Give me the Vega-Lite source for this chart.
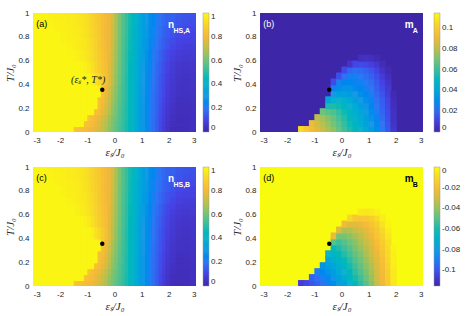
{
"$schema": "https://vega.github.io/schema/vega-lite/v6.json",
"background": "white",
"padding": {"left": 4, "top": 9, "right": 2, "bottom": 2},
"datasets": {
"nc": [
{"x":-2.875,"y":0.025,"v":0.985},{"x":-2.625,"y":0.025,"v":0.985},{"x":-2.375,"y":0.025,"v":0.985},{"x":-2.125,"y":0.025,"v":0.985},{"x":-1.875,"y":0.025,"v":0.985},{"x":-1.625,"y":0.025,"v":0.985},{"x":2.125,"y":0.025,"v":0.03},{"x":2.375,"y":0.025,"v":0.025},{"x":2.625,"y":0.025,"v":0.03},{"x":2.875,"y":0.025,"v":0.04},
{"x":-2.875,"y":0.075,"v":0.985},{"x":-2.625,"y":0.075,"v":0.985},{"x":-2.375,"y":0.075,"v":0.985},{"x":-2.125,"y":0.075,"v":0.985},{"x":-1.875,"y":0.075,"v":0.985},{"x":-1.625,"y":0.075,"v":0.985},{"x":2.125,"y":0.075,"v":0.035},{"x":2.375,"y":0.075,"v":0.028},{"x":2.625,"y":0.075,"v":0.03},{"x":2.875,"y":0.075,"v":0.04},
{"x":-2.875,"y":0.125,"v":0.985},{"x":-2.625,"y":0.125,"v":0.985},{"x":-2.375,"y":0.125,"v":0.985},{"x":-2.125,"y":0.125,"v":0.985},{"x":-1.875,"y":0.125,"v":0.985},{"x":-1.625,"y":0.125,"v":0.985},{"x":2.125,"y":0.125,"v":0.04},{"x":2.375,"y":0.125,"v":0.03},{"x":2.625,"y":0.125,"v":0.032},{"x":2.875,"y":0.125,"v":0.04},
{"x":-2.875,"y":0.175,"v":0.985},{"x":-2.625,"y":0.175,"v":0.985},{"x":-2.375,"y":0.175,"v":0.985},{"x":-2.125,"y":0.175,"v":0.985},{"x":-1.875,"y":0.175,"v":0.985},{"x":-1.625,"y":0.175,"v":0.985},{"x":2.125,"y":0.175,"v":0.045},{"x":2.375,"y":0.175,"v":0.033},{"x":2.625,"y":0.175,"v":0.034},{"x":2.875,"y":0.175,"v":0.042},
{"x":-2.875,"y":0.225,"v":0.985},{"x":-2.625,"y":0.225,"v":0.985},{"x":-2.375,"y":0.225,"v":0.985},{"x":-2.125,"y":0.225,"v":0.985},{"x":-1.875,"y":0.225,"v":0.985},{"x":-1.625,"y":0.225,"v":0.985},{"x":2.125,"y":0.225,"v":0.05},{"x":2.375,"y":0.225,"v":0.036},{"x":2.625,"y":0.225,"v":0.036},{"x":2.875,"y":0.225,"v":0.044},
{"x":-2.875,"y":0.275,"v":0.985},{"x":-2.625,"y":0.275,"v":0.985},{"x":-2.375,"y":0.275,"v":0.985},{"x":-2.125,"y":0.275,"v":0.985},{"x":-1.875,"y":0.275,"v":0.985},{"x":-1.625,"y":0.275,"v":0.985},{"x":2.125,"y":0.275,"v":0.055},{"x":2.375,"y":0.275,"v":0.04},{"x":2.625,"y":0.275,"v":0.04},{"x":2.875,"y":0.275,"v":0.046},
{"x":-2.875,"y":0.325,"v":0.985},{"x":-2.625,"y":0.325,"v":0.985},{"x":-2.375,"y":0.325,"v":0.985},{"x":-2.125,"y":0.325,"v":0.985},{"x":-1.875,"y":0.325,"v":0.985},{"x":-1.625,"y":0.325,"v":0.985},{"x":2.125,"y":0.325,"v":0.06},{"x":2.375,"y":0.325,"v":0.045},{"x":2.625,"y":0.325,"v":0.043},{"x":2.875,"y":0.325,"v":0.048},
{"x":-2.875,"y":0.375,"v":0.985},{"x":-2.625,"y":0.375,"v":0.985},{"x":-2.375,"y":0.375,"v":0.985},{"x":-2.125,"y":0.375,"v":0.985},{"x":-1.875,"y":0.375,"v":0.985},{"x":-1.625,"y":0.375,"v":0.985},{"x":2.125,"y":0.375,"v":0.063},{"x":2.375,"y":0.375,"v":0.048},{"x":2.625,"y":0.375,"v":0.046},{"x":2.875,"y":0.375,"v":0.05},
{"x":-2.875,"y":0.425,"v":0.985},{"x":-2.625,"y":0.425,"v":0.985},{"x":-2.375,"y":0.425,"v":0.985},{"x":-2.125,"y":0.425,"v":0.985},{"x":-1.875,"y":0.425,"v":0.985},{"x":-1.625,"y":0.425,"v":0.985},{"x":2.125,"y":0.425,"v":0.066},{"x":2.375,"y":0.425,"v":0.05},{"x":2.625,"y":0.425,"v":0.048},{"x":2.875,"y":0.425,"v":0.053},
{"x":-2.875,"y":0.475,"v":0.985},{"x":-2.625,"y":0.475,"v":0.985},{"x":-2.375,"y":0.475,"v":0.985},{"x":-2.125,"y":0.475,"v":0.985},{"x":-1.875,"y":0.475,"v":0.985},{"x":-1.625,"y":0.475,"v":0.985},{"x":2.125,"y":0.475,"v":0.07},{"x":2.375,"y":0.475,"v":0.053},{"x":2.625,"y":0.475,"v":0.05},{"x":2.875,"y":0.475,"v":0.056},
{"x":-2.875,"y":0.525,"v":0.985},{"x":-2.625,"y":0.525,"v":0.985},{"x":-2.375,"y":0.525,"v":0.985},{"x":-2.125,"y":0.525,"v":0.985},{"x":-1.875,"y":0.525,"v":0.985},{"x":-1.625,"y":0.525,"v":0.985},{"x":2.125,"y":0.525,"v":0.075},{"x":2.375,"y":0.525,"v":0.058},{"x":2.625,"y":0.525,"v":0.053},{"x":2.875,"y":0.525,"v":0.058},
{"x":-2.875,"y":0.575,"v":0.985},{"x":-2.625,"y":0.575,"v":0.985},{"x":-2.375,"y":0.575,"v":0.985},{"x":-2.125,"y":0.575,"v":0.985},{"x":-1.875,"y":0.575,"v":0.985},{"x":-1.625,"y":0.575,"v":0.985},{"x":2.125,"y":0.575,"v":0.08},{"x":2.375,"y":0.575,"v":0.063},{"x":2.625,"y":0.575,"v":0.058},{"x":2.875,"y":0.575,"v":0.062},
{"x":-2.875,"y":0.625,"v":0.985},{"x":-2.625,"y":0.625,"v":0.985},{"x":-2.375,"y":0.625,"v":0.985},{"x":-2.125,"y":0.625,"v":0.985},{"x":-1.875,"y":0.625,"v":0.985},{"x":-1.625,"y":0.625,"v":0.985},{"x":2.125,"y":0.625,"v":0.088},{"x":2.375,"y":0.625,"v":0.07},{"x":2.625,"y":0.625,"v":0.065},{"x":2.875,"y":0.625,"v":0.068},
{"x":-2.875,"y":0.675,"v":0.985},{"x":-2.625,"y":0.675,"v":0.985},{"x":-2.375,"y":0.675,"v":0.985},{"x":-2.125,"y":0.675,"v":0.985},{"x":-1.875,"y":0.675,"v":0.985},{"x":-1.625,"y":0.675,"v":0.98},{"x":2.125,"y":0.675,"v":0.097},{"x":2.375,"y":0.675,"v":0.08},{"x":2.625,"y":0.675,"v":0.073},{"x":2.875,"y":0.675,"v":0.075},
{"x":-2.875,"y":0.725,"v":0.985},{"x":-2.625,"y":0.725,"v":0.985},{"x":-2.375,"y":0.725,"v":0.985},{"x":-2.125,"y":0.725,"v":0.985},{"x":-1.875,"y":0.725,"v":0.985},{"x":-1.625,"y":0.725,"v":0.975},{"x":2.125,"y":0.725,"v":0.107},{"x":2.375,"y":0.725,"v":0.09},{"x":2.625,"y":0.725,"v":0.082},{"x":2.875,"y":0.725,"v":0.083},
{"x":-2.875,"y":0.775,"v":0.985},{"x":-2.625,"y":0.775,"v":0.985},{"x":-2.375,"y":0.775,"v":0.985},{"x":-2.125,"y":0.775,"v":0.985},{"x":-1.875,"y":0.775,"v":0.975},{"x":-1.625,"y":0.775,"v":0.97},{"x":2.125,"y":0.775,"v":0.117},{"x":2.375,"y":0.775,"v":0.1},{"x":2.625,"y":0.775,"v":0.092},{"x":2.875,"y":0.775,"v":0.092},
{"x":-2.875,"y":0.825,"v":0.985},{"x":-2.625,"y":0.825,"v":0.985},{"x":-2.375,"y":0.825,"v":0.985},{"x":-2.125,"y":0.825,"v":0.985},{"x":-1.875,"y":0.825,"v":0.975},{"x":-1.625,"y":0.825,"v":0.968},{"x":2.125,"y":0.825,"v":0.128},{"x":2.375,"y":0.825,"v":0.11},{"x":2.625,"y":0.825,"v":0.102},{"x":2.875,"y":0.825,"v":0.1},
{"x":-2.875,"y":0.875,"v":0.985},{"x":-2.625,"y":0.875,"v":0.985},{"x":-2.375,"y":0.875,"v":0.985},{"x":-2.125,"y":0.875,"v":0.978},{"x":-1.875,"y":0.875,"v":0.972},{"x":-1.625,"y":0.875,"v":0.965},{"x":2.125,"y":0.875,"v":0.138},{"x":2.375,"y":0.875,"v":0.12},{"x":2.625,"y":0.875,"v":0.112},{"x":2.875,"y":0.875,"v":0.11},
{"x":-2.875,"y":0.925,"v":0.985},{"x":-2.625,"y":0.925,"v":0.985},{"x":-2.375,"y":0.925,"v":0.98},{"x":-2.125,"y":0.925,"v":0.975},{"x":-1.875,"y":0.925,"v":0.97},{"x":-1.625,"y":0.925,"v":0.963},{"x":2.125,"y":0.925,"v":0.148},{"x":2.375,"y":0.925,"v":0.13},{"x":2.625,"y":0.925,"v":0.12},{"x":2.875,"y":0.925,"v":0.118},
{"x":-2.875,"y":0.975,"v":0.985},{"x":-2.625,"y":0.975,"v":0.985},{"x":-2.375,"y":0.975,"v":0.978},{"x":-2.125,"y":0.975,"v":0.973},{"x":-1.875,"y":0.975,"v":0.968},{"x":-1.625,"y":0.975,"v":0.96},{"x":2.125,"y":0.975,"v":0.155},{"x":2.375,"y":0.975,"v":0.138},{"x":2.625,"y":0.975,"v":0.128},{"x":2.875,"y":0.975,"v":0.125}
],
"nf1": [
{"x":-1.4375,"y":0.025,"v":0.845},{"x":-1.3125,"y":0.025,"v":0.835},{"x":-1.1875,"y":0.025,"v":0.825},{"x":-1.0625,"y":0.025,"v":0.815},{"x":-0.9375,"y":0.025,"v":0.805},{"x":-0.8125,"y":0.025,"v":0.79},{"x":-0.6875,"y":0.025,"v":0.77},{"x":-0.5625,"y":0.025,"v":0.745},{"x":-0.4375,"y":0.025,"v":0.715},{"x":-0.3125,"y":0.025,"v":0.685},{"x":-0.1875,"y":0.025,"v":0.64},{"x":-0.0625,"y":0.025,"v":0.605},{"x":0.0625,"y":0.025,"v":0.575},{"x":0.1875,"y":0.025,"v":0.545},{"x":0.3125,"y":0.025,"v":0.515},{"x":0.4375,"y":0.025,"v":0.485},{"x":0.5625,"y":0.025,"v":0.45},{"x":0.6875,"y":0.025,"v":0.41},{"x":0.8125,"y":0.025,"v":0.36},{"x":0.9375,"y":0.025,"v":0.32},{"x":1.0625,"y":0.025,"v":0.29},{"x":1.1875,"y":0.025,"v":0.255},{"x":1.3125,"y":0.025,"v":0.22},{"x":1.4375,"y":0.025,"v":0.18},{"x":1.5625,"y":0.025,"v":0.15},{"x":1.6875,"y":0.025,"v":0.11},{"x":1.8125,"y":0.025,"v":0.08},{"x":1.9375,"y":0.025,"v":0.05},
{"x":-1.4375,"y":0.075,"v":0.985},{"x":-1.3125,"y":0.075,"v":0.985},{"x":-1.1875,"y":0.075,"v":0.985},{"x":-1.0625,"y":0.075,"v":0.84},{"x":-0.9375,"y":0.075,"v":0.825},{"x":-0.8125,"y":0.075,"v":0.81},{"x":-0.6875,"y":0.075,"v":0.785},{"x":-0.5625,"y":0.075,"v":0.755},{"x":-0.4375,"y":0.075,"v":0.725},{"x":-0.3125,"y":0.075,"v":0.69},{"x":-0.1875,"y":0.075,"v":0.65},{"x":-0.0625,"y":0.075,"v":0.615},{"x":0.0625,"y":0.075,"v":0.58},{"x":0.1875,"y":0.075,"v":0.55},{"x":0.3125,"y":0.075,"v":0.515},{"x":0.4375,"y":0.075,"v":0.485},{"x":0.5625,"y":0.075,"v":0.45},{"x":0.6875,"y":0.075,"v":0.41},{"x":0.8125,"y":0.075,"v":0.36},{"x":0.9375,"y":0.075,"v":0.32},{"x":1.0625,"y":0.075,"v":0.29},{"x":1.1875,"y":0.075,"v":0.255},{"x":1.3125,"y":0.075,"v":0.22},{"x":1.4375,"y":0.075,"v":0.18},{"x":1.5625,"y":0.075,"v":0.15},{"x":1.6875,"y":0.075,"v":0.11},{"x":1.8125,"y":0.075,"v":0.082},{"x":1.9375,"y":0.075,"v":0.055},
{"x":-1.4375,"y":0.125,"v":0.985},{"x":-1.3125,"y":0.125,"v":0.985},{"x":-1.1875,"y":0.125,"v":0.985},{"x":-1.0625,"y":0.125,"v":0.985},{"x":-0.9375,"y":0.125,"v":0.845},{"x":-0.8125,"y":0.125,"v":0.83},{"x":-0.6875,"y":0.125,"v":0.805},{"x":-0.5625,"y":0.125,"v":0.775},{"x":-0.4375,"y":0.125,"v":0.745},{"x":-0.3125,"y":0.125,"v":0.71},{"x":-0.1875,"y":0.125,"v":0.665},{"x":-0.0625,"y":0.125,"v":0.625},{"x":0.0625,"y":0.125,"v":0.59},{"x":0.1875,"y":0.125,"v":0.555},{"x":0.3125,"y":0.125,"v":0.52},{"x":0.4375,"y":0.125,"v":0.49},{"x":0.5625,"y":0.125,"v":0.45},{"x":0.6875,"y":0.125,"v":0.41},{"x":0.8125,"y":0.125,"v":0.365},{"x":0.9375,"y":0.125,"v":0.325},{"x":1.0625,"y":0.125,"v":0.29},{"x":1.1875,"y":0.125,"v":0.255},{"x":1.3125,"y":0.125,"v":0.22},{"x":1.4375,"y":0.125,"v":0.183},{"x":1.5625,"y":0.125,"v":0.152},{"x":1.6875,"y":0.125,"v":0.115},{"x":1.8125,"y":0.125,"v":0.087},{"x":1.9375,"y":0.125,"v":0.058},
{"x":-1.4375,"y":0.175,"v":0.985},{"x":-1.3125,"y":0.175,"v":0.985},{"x":-1.1875,"y":0.175,"v":0.985},{"x":-1.0625,"y":0.175,"v":0.985},{"x":-0.9375,"y":0.175,"v":0.985},{"x":-0.8125,"y":0.175,"v":0.985},{"x":-0.6875,"y":0.175,"v":0.835},{"x":-0.5625,"y":0.175,"v":0.81},{"x":-0.4375,"y":0.175,"v":0.775},{"x":-0.3125,"y":0.175,"v":0.74},{"x":-0.1875,"y":0.175,"v":0.685},{"x":-0.0625,"y":0.175,"v":0.64},{"x":0.0625,"y":0.175,"v":0.6},{"x":0.1875,"y":0.175,"v":0.56},{"x":0.3125,"y":0.175,"v":0.525},{"x":0.4375,"y":0.175,"v":0.49},{"x":0.5625,"y":0.175,"v":0.45},{"x":0.6875,"y":0.175,"v":0.41},{"x":0.8125,"y":0.175,"v":0.365},{"x":0.9375,"y":0.175,"v":0.325},{"x":1.0625,"y":0.175,"v":0.29},{"x":1.1875,"y":0.175,"v":0.255},{"x":1.3125,"y":0.175,"v":0.22},{"x":1.4375,"y":0.175,"v":0.185},{"x":1.5625,"y":0.175,"v":0.153},{"x":1.6875,"y":0.175,"v":0.118},{"x":1.8125,"y":0.175,"v":0.09},{"x":1.9375,"y":0.175,"v":0.062},
{"x":-1.4375,"y":0.225,"v":0.985},{"x":-1.3125,"y":0.225,"v":0.985},{"x":-1.1875,"y":0.225,"v":0.985},{"x":-1.0625,"y":0.225,"v":0.985},{"x":-0.9375,"y":0.225,"v":0.985},{"x":-0.8125,"y":0.225,"v":0.985},{"x":-0.6875,"y":0.225,"v":0.985},{"x":-0.5625,"y":0.225,"v":0.825},{"x":-0.4375,"y":0.225,"v":0.795},{"x":-0.3125,"y":0.225,"v":0.755},{"x":-0.1875,"y":0.225,"v":0.7},{"x":-0.0625,"y":0.225,"v":0.65},{"x":0.0625,"y":0.225,"v":0.605},{"x":0.1875,"y":0.225,"v":0.565},{"x":0.3125,"y":0.225,"v":0.53},{"x":0.4375,"y":0.225,"v":0.49},{"x":0.5625,"y":0.225,"v":0.45},{"x":0.6875,"y":0.225,"v":0.41},{"x":0.8125,"y":0.225,"v":0.365},{"x":0.9375,"y":0.225,"v":0.325},{"x":1.0625,"y":0.225,"v":0.29},{"x":1.1875,"y":0.225,"v":0.255},{"x":1.3125,"y":0.225,"v":0.22},{"x":1.4375,"y":0.225,"v":0.185},{"x":1.5625,"y":0.225,"v":0.155},{"x":1.6875,"y":0.225,"v":0.122},{"x":1.8125,"y":0.225,"v":0.095},{"x":1.9375,"y":0.225,"v":0.067},
{"x":-1.4375,"y":0.275,"v":0.985},{"x":-1.3125,"y":0.275,"v":0.985},{"x":-1.1875,"y":0.275,"v":0.985},{"x":-1.0625,"y":0.275,"v":0.985},{"x":-0.9375,"y":0.275,"v":0.985},{"x":-0.8125,"y":0.275,"v":0.985},{"x":-0.6875,"y":0.275,"v":0.985},{"x":-0.5625,"y":0.275,"v":0.83},{"x":-0.4375,"y":0.275,"v":0.81},{"x":-0.3125,"y":0.275,"v":0.77},{"x":-0.1875,"y":0.275,"v":0.715},{"x":-0.0625,"y":0.275,"v":0.665},{"x":0.0625,"y":0.275,"v":0.615},{"x":0.1875,"y":0.275,"v":0.57},{"x":0.3125,"y":0.275,"v":0.53},{"x":0.4375,"y":0.275,"v":0.495},{"x":0.5625,"y":0.275,"v":0.45},{"x":0.6875,"y":0.275,"v":0.41},{"x":0.8125,"y":0.275,"v":0.367},{"x":0.9375,"y":0.275,"v":0.328},{"x":1.0625,"y":0.275,"v":0.292},{"x":1.1875,"y":0.275,"v":0.257},{"x":1.3125,"y":0.275,"v":0.222},{"x":1.4375,"y":0.275,"v":0.188},{"x":1.5625,"y":0.275,"v":0.157},{"x":1.6875,"y":0.275,"v":0.125},{"x":1.8125,"y":0.275,"v":0.1},{"x":1.9375,"y":0.275,"v":0.072},
{"x":-1.4375,"y":0.325,"v":0.985},{"x":-1.3125,"y":0.325,"v":0.985},{"x":-1.1875,"y":0.325,"v":0.985},{"x":-1.0625,"y":0.325,"v":0.985},{"x":-0.9375,"y":0.325,"v":0.985},{"x":-0.8125,"y":0.325,"v":0.985},{"x":-0.6875,"y":0.325,"v":0.985},{"x":-0.5625,"y":0.325,"v":0.985},{"x":-0.4375,"y":0.325,"v":0.83},{"x":-0.3125,"y":0.325,"v":0.79},{"x":-0.1875,"y":0.325,"v":0.73},{"x":-0.0625,"y":0.325,"v":0.675},{"x":0.0625,"y":0.325,"v":0.625},{"x":0.1875,"y":0.325,"v":0.575},{"x":0.3125,"y":0.325,"v":0.535},{"x":0.4375,"y":0.325,"v":0.5},{"x":0.5625,"y":0.325,"v":0.455},{"x":0.6875,"y":0.325,"v":0.412},{"x":0.8125,"y":0.325,"v":0.368},{"x":0.9375,"y":0.325,"v":0.33},{"x":1.0625,"y":0.325,"v":0.294},{"x":1.1875,"y":0.325,"v":0.26},{"x":1.3125,"y":0.325,"v":0.225},{"x":1.4375,"y":0.325,"v":0.19},{"x":1.5625,"y":0.325,"v":0.16},{"x":1.6875,"y":0.325,"v":0.13},{"x":1.8125,"y":0.325,"v":0.105},{"x":1.9375,"y":0.325,"v":0.078},
{"x":-1.4375,"y":0.375,"v":0.985},{"x":-1.3125,"y":0.375,"v":0.985},{"x":-1.1875,"y":0.375,"v":0.985},{"x":-1.0625,"y":0.375,"v":0.985},{"x":-0.9375,"y":0.375,"v":0.985},{"x":-0.8125,"y":0.375,"v":0.985},{"x":-0.6875,"y":0.375,"v":0.985},{"x":-0.5625,"y":0.375,"v":0.97},{"x":-0.4375,"y":0.375,"v":0.87},{"x":-0.3125,"y":0.375,"v":0.8},{"x":-0.1875,"y":0.375,"v":0.74},{"x":-0.0625,"y":0.375,"v":0.68},{"x":0.0625,"y":0.375,"v":0.63},{"x":0.1875,"y":0.375,"v":0.58},{"x":0.3125,"y":0.375,"v":0.535},{"x":0.4375,"y":0.375,"v":0.5},{"x":0.5625,"y":0.375,"v":0.455},{"x":0.6875,"y":0.375,"v":0.414},{"x":0.8125,"y":0.375,"v":0.37},{"x":0.9375,"y":0.375,"v":0.332},{"x":1.0625,"y":0.375,"v":0.296},{"x":1.1875,"y":0.375,"v":0.262},{"x":1.3125,"y":0.375,"v":0.228},{"x":1.4375,"y":0.375,"v":0.193},{"x":1.5625,"y":0.375,"v":0.163},{"x":1.6875,"y":0.375,"v":0.133},{"x":1.8125,"y":0.375,"v":0.108},{"x":1.9375,"y":0.375,"v":0.08}
],
"nf2": [
{"x":-1.4375,"y":0.45,"v":0.985},{"x":-1.3125,"y":0.45,"v":0.985},{"x":-1.1875,"y":0.45,"v":0.985},{"x":-1.0625,"y":0.45,"v":0.985},{"x":-0.9375,"y":0.45,"v":0.985},{"x":-0.8125,"y":0.45,"v":0.97},{"x":-0.6875,"y":0.45,"v":0.94},{"x":-0.5625,"y":0.45,"v":0.91},{"x":-0.4375,"y":0.45,"v":0.87},{"x":-0.3125,"y":0.45,"v":0.83},{"x":-0.1875,"y":0.45,"v":0.765},{"x":-0.0625,"y":0.45,"v":0.7},{"x":0.0625,"y":0.45,"v":0.64},{"x":0.1875,"y":0.45,"v":0.59},{"x":0.3125,"y":0.45,"v":0.54},{"x":0.4375,"y":0.45,"v":0.5},{"x":0.5625,"y":0.45,"v":0.455},{"x":0.6875,"y":0.45,"v":0.415},{"x":0.8125,"y":0.45,"v":0.372},{"x":0.9375,"y":0.45,"v":0.335},{"x":1.0625,"y":0.45,"v":0.3},{"x":1.1875,"y":0.45,"v":0.265},{"x":1.3125,"y":0.45,"v":0.232},{"x":1.4375,"y":0.45,"v":0.197},{"x":1.5625,"y":0.45,"v":0.167},{"x":1.6875,"y":0.45,"v":0.138},{"x":1.8125,"y":0.45,"v":0.112},{"x":1.9375,"y":0.45,"v":0.085},
{"x":-1.4375,"y":0.55,"v":0.985},{"x":-1.3125,"y":0.55,"v":0.985},{"x":-1.1875,"y":0.55,"v":0.985},{"x":-1.0625,"y":0.55,"v":0.97},{"x":-0.9375,"y":0.55,"v":0.955},{"x":-0.8125,"y":0.55,"v":0.935},{"x":-0.6875,"y":0.55,"v":0.91},{"x":-0.5625,"y":0.55,"v":0.88},{"x":-0.4375,"y":0.55,"v":0.85},{"x":-0.3125,"y":0.55,"v":0.82},{"x":-0.1875,"y":0.55,"v":0.77},{"x":-0.0625,"y":0.55,"v":0.71},{"x":0.0625,"y":0.55,"v":0.65},{"x":0.1875,"y":0.55,"v":0.595},{"x":0.3125,"y":0.55,"v":0.545},{"x":0.4375,"y":0.55,"v":0.505},{"x":0.5625,"y":0.55,"v":0.46},{"x":0.6875,"y":0.55,"v":0.42},{"x":0.8125,"y":0.55,"v":0.378},{"x":0.9375,"y":0.55,"v":0.34},{"x":1.0625,"y":0.55,"v":0.305},{"x":1.1875,"y":0.55,"v":0.27},{"x":1.3125,"y":0.55,"v":0.237},{"x":1.4375,"y":0.55,"v":0.204},{"x":1.5625,"y":0.55,"v":0.175},{"x":1.6875,"y":0.55,"v":0.147},{"x":1.8125,"y":0.55,"v":0.12},{"x":1.9375,"y":0.55,"v":0.095},
{"x":-1.4375,"y":0.65,"v":0.975},{"x":-1.3125,"y":0.65,"v":0.97},{"x":-1.1875,"y":0.65,"v":0.962},{"x":-1.0625,"y":0.65,"v":0.952},{"x":-0.9375,"y":0.65,"v":0.94},{"x":-0.8125,"y":0.65,"v":0.92},{"x":-0.6875,"y":0.65,"v":0.9},{"x":-0.5625,"y":0.65,"v":0.87},{"x":-0.4375,"y":0.65,"v":0.84},{"x":-0.3125,"y":0.65,"v":0.81},{"x":-0.1875,"y":0.65,"v":0.775},{"x":-0.0625,"y":0.65,"v":0.72},{"x":0.0625,"y":0.65,"v":0.66},{"x":0.1875,"y":0.65,"v":0.6},{"x":0.3125,"y":0.65,"v":0.55},{"x":0.4375,"y":0.65,"v":0.51},{"x":0.5625,"y":0.65,"v":0.465},{"x":0.6875,"y":0.65,"v":0.425},{"x":0.8125,"y":0.65,"v":0.383},{"x":0.9375,"y":0.65,"v":0.345},{"x":1.0625,"y":0.65,"v":0.31},{"x":1.1875,"y":0.65,"v":0.278},{"x":1.3125,"y":0.65,"v":0.245},{"x":1.4375,"y":0.65,"v":0.213},{"x":1.5625,"y":0.65,"v":0.185},{"x":1.6875,"y":0.65,"v":0.158},{"x":1.8125,"y":0.65,"v":0.132},{"x":1.9375,"y":0.65,"v":0.11},
{"x":-1.4375,"y":0.75,"v":0.965},{"x":-1.3125,"y":0.75,"v":0.96},{"x":-1.1875,"y":0.75,"v":0.952},{"x":-1.0625,"y":0.75,"v":0.945},{"x":-0.9375,"y":0.75,"v":0.932},{"x":-0.8125,"y":0.75,"v":0.915},{"x":-0.6875,"y":0.75,"v":0.895},{"x":-0.5625,"y":0.75,"v":0.865},{"x":-0.4375,"y":0.75,"v":0.835},{"x":-0.3125,"y":0.75,"v":0.805},{"x":-0.1875,"y":0.75,"v":0.78},{"x":-0.0625,"y":0.75,"v":0.73},{"x":0.0625,"y":0.75,"v":0.665},{"x":0.1875,"y":0.75,"v":0.605},{"x":0.3125,"y":0.75,"v":0.555},{"x":0.4375,"y":0.75,"v":0.515},{"x":0.5625,"y":0.75,"v":0.47},{"x":0.6875,"y":0.75,"v":0.43},{"x":0.8125,"y":0.75,"v":0.387},{"x":0.9375,"y":0.75,"v":0.35},{"x":1.0625,"y":0.75,"v":0.315},{"x":1.1875,"y":0.75,"v":0.285},{"x":1.3125,"y":0.75,"v":0.253},{"x":1.4375,"y":0.75,"v":0.223},{"x":1.5625,"y":0.75,"v":0.197},{"x":1.6875,"y":0.75,"v":0.172},{"x":1.8125,"y":0.75,"v":0.148},{"x":1.9375,"y":0.75,"v":0.127},
{"x":-1.4375,"y":0.85,"v":0.96},{"x":-1.3125,"y":0.85,"v":0.955},{"x":-1.1875,"y":0.85,"v":0.947},{"x":-1.0625,"y":0.85,"v":0.94},{"x":-0.9375,"y":0.85,"v":0.925},{"x":-0.8125,"y":0.85,"v":0.905},{"x":-0.6875,"y":0.85,"v":0.885},{"x":-0.5625,"y":0.85,"v":0.86},{"x":-0.4375,"y":0.85,"v":0.83},{"x":-0.3125,"y":0.85,"v":0.8},{"x":-0.1875,"y":0.85,"v":0.78},{"x":-0.0625,"y":0.85,"v":0.735},{"x":0.0625,"y":0.85,"v":0.67},{"x":0.1875,"y":0.85,"v":0.61},{"x":0.3125,"y":0.85,"v":0.56},{"x":0.4375,"y":0.85,"v":0.52},{"x":0.5625,"y":0.85,"v":0.475},{"x":0.6875,"y":0.85,"v":0.435},{"x":0.8125,"y":0.85,"v":0.39},{"x":0.9375,"y":0.85,"v":0.355},{"x":1.0625,"y":0.85,"v":0.32},{"x":1.1875,"y":0.85,"v":0.29},{"x":1.3125,"y":0.85,"v":0.26},{"x":1.4375,"y":0.85,"v":0.232},{"x":1.5625,"y":0.85,"v":0.207},{"x":1.6875,"y":0.85,"v":0.184},{"x":1.8125,"y":0.85,"v":0.162},{"x":1.9375,"y":0.85,"v":0.143},
{"x":-1.4375,"y":0.95,"v":0.955},{"x":-1.3125,"y":0.95,"v":0.95},{"x":-1.1875,"y":0.95,"v":0.943},{"x":-1.0625,"y":0.95,"v":0.935},{"x":-0.9375,"y":0.95,"v":0.92},{"x":-0.8125,"y":0.95,"v":0.9},{"x":-0.6875,"y":0.95,"v":0.88},{"x":-0.5625,"y":0.95,"v":0.855},{"x":-0.4375,"y":0.95,"v":0.825},{"x":-0.3125,"y":0.95,"v":0.8},{"x":-0.1875,"y":0.95,"v":0.785},{"x":-0.0625,"y":0.95,"v":0.74},{"x":0.0625,"y":0.95,"v":0.675},{"x":0.1875,"y":0.95,"v":0.615},{"x":0.3125,"y":0.95,"v":0.565},{"x":0.4375,"y":0.95,"v":0.525},{"x":0.5625,"y":0.95,"v":0.48},{"x":0.6875,"y":0.95,"v":0.44},{"x":0.8125,"y":0.95,"v":0.395},{"x":0.9375,"y":0.95,"v":0.36},{"x":1.0625,"y":0.95,"v":0.325},{"x":1.1875,"y":0.95,"v":0.295},{"x":1.3125,"y":0.95,"v":0.265},{"x":1.4375,"y":0.95,"v":0.24},{"x":1.5625,"y":0.95,"v":0.215},{"x":1.6875,"y":0.95,"v":0.193},{"x":1.8125,"y":0.95,"v":0.173},{"x":1.9375,"y":0.95,"v":0.155}
],
"m": [
{"x":-1.5,"y":0.025,"b":0.105,"d":-0.106},{"x":-1.3,"y":0.025,"b":0.099,"d":-0.103},{"x":-1.1,"y":0.025,"b":0.093,"d":-0.1},{"x":-0.9,"y":0.025,"b":0.088,"d":-0.097},{"x":-0.7,"y":0.025,"b":0.083,"d":-0.093},{"x":-0.5,"y":0.025,"b":0.078,"d":-0.089},{"x":-0.3,"y":0.025,"b":0.073,"d":-0.085},{"x":-0.1,"y":0.025,"b":0.067,"d":-0.08},{"x":0.1,"y":0.025,"b":0.061,"d":-0.075},{"x":0.3,"y":0.025,"b":0.056,"d":-0.069},{"x":0.5,"y":0.025,"b":0.051,"d":-0.063},{"x":0.7,"y":0.025,"b":0.046,"d":-0.057},{"x":0.9,"y":0.025,"b":0.041,"d":-0.05},{"x":1.1,"y":0.025,"b":0.036,"d":-0.042},{"x":1.3,"y":0.025,"b":0.03,"d":-0.033},{"x":1.5,"y":0.025,"b":0.024,"d":-0.024},{"x":1.7,"y":0.025,"b":0.016,"d":-0.015},{"x":1.9,"y":0.025,"b":0.007,"d":-0.006},
{"x":-1.1,"y":0.075,"b":0.09,"d":-0.097},{"x":-0.9,"y":0.075,"b":0.085,"d":-0.094},{"x":-0.7,"y":0.075,"b":0.08,"d":-0.09},{"x":-0.5,"y":0.075,"b":0.075,"d":-0.086},{"x":-0.3,"y":0.075,"b":0.07,"d":-0.082},{"x":-0.1,"y":0.075,"b":0.065,"d":-0.077},{"x":0.1,"y":0.075,"b":0.059,"d":-0.072},{"x":0.3,"y":0.075,"b":0.054,"d":-0.066},{"x":0.5,"y":0.075,"b":0.049,"d":-0.06},{"x":0.7,"y":0.075,"b":0.044,"d":-0.054},{"x":0.9,"y":0.075,"b":0.039,"d":-0.047},{"x":1.1,"y":0.075,"b":0.034,"d":-0.04},{"x":1.3,"y":0.075,"b":0.029,"d":-0.031},{"x":1.5,"y":0.075,"b":0.023,"d":-0.023},{"x":1.7,"y":0.075,"b":0.015,"d":-0.014},{"x":1.9,"y":0.075,"b":0.006,"d":-0.005},
{"x":-0.9,"y":0.125,"b":0.08,"d":-0.09},{"x":-0.7,"y":0.125,"b":0.077,"d":-0.087},{"x":-0.5,"y":0.125,"b":0.072,"d":-0.083},{"x":-0.3,"y":0.125,"b":0.067,"d":-0.079},{"x":-0.1,"y":0.125,"b":0.062,"d":-0.074},{"x":0.1,"y":0.125,"b":0.057,"d":-0.069},{"x":0.3,"y":0.125,"b":0.052,"d":-0.063},{"x":0.5,"y":0.125,"b":0.047,"d":-0.057},{"x":0.7,"y":0.125,"b":0.042,"d":-0.051},{"x":0.9,"y":0.125,"b":0.037,"d":-0.045},{"x":1.1,"y":0.125,"b":0.032,"d":-0.038},{"x":1.3,"y":0.125,"b":0.027,"d":-0.03},{"x":1.5,"y":0.125,"b":0.021,"d":-0.022},{"x":1.7,"y":0.125,"b":0.014,"d":-0.013},{"x":1.9,"y":0.125,"b":0.005,"d":-0.005},
{"x":-0.7,"y":0.175,"b":0.068,"d":-0.083},{"x":-0.5,"y":0.175,"b":0.066,"d":-0.079},{"x":-0.3,"y":0.175,"b":0.063,"d":-0.075},{"x":-0.1,"y":0.175,"b":0.059,"d":-0.071},{"x":0.1,"y":0.175,"b":0.054,"d":-0.066},{"x":0.3,"y":0.175,"b":0.049,"d":-0.06},{"x":0.5,"y":0.175,"b":0.044,"d":-0.054},{"x":0.7,"y":0.175,"b":0.04,"d":-0.048},{"x":0.9,"y":0.175,"b":0.035,"d":-0.042},{"x":1.1,"y":0.175,"b":0.03,"d":-0.036},{"x":1.3,"y":0.175,"b":0.025,"d":-0.028},{"x":1.5,"y":0.175,"b":0.019,"d":-0.021},{"x":1.7,"y":0.175,"b":0.013,"d":-0.012},{"x":1.9,"y":0.175,"b":0.005,"d":-0.004},
{"x":-0.5,"y":0.225,"b":0.056,"d":-0.075},{"x":-0.3,"y":0.225,"b":0.056,"d":-0.071},{"x":-0.1,"y":0.225,"b":0.054,"d":-0.067},{"x":0.1,"y":0.225,"b":0.05,"d":-0.062},{"x":0.3,"y":0.225,"b":0.046,"d":-0.057},{"x":0.5,"y":0.225,"b":0.042,"d":-0.051},{"x":0.7,"y":0.225,"b":0.037,"d":-0.046},{"x":0.9,"y":0.225,"b":0.033,"d":-0.04},{"x":1.1,"y":0.225,"b":0.028,"d":-0.034},{"x":1.3,"y":0.225,"b":0.023,"d":-0.027},{"x":1.5,"y":0.225,"b":0.018,"d":-0.02},{"x":1.7,"y":0.225,"b":0.012,"d":-0.011},{"x":1.9,"y":0.225,"b":0.004,"d":-0.003},
{"x":-0.5,"y":0.275,"b":0.04,"d":-0.069},{"x":-0.3,"y":0.275,"b":0.045,"d":-0.066},{"x":-0.1,"y":0.275,"b":0.046,"d":-0.063},{"x":0.1,"y":0.275,"b":0.045,"d":-0.058},{"x":0.3,"y":0.275,"b":0.042,"d":-0.053},{"x":0.5,"y":0.275,"b":0.038,"d":-0.048},{"x":0.7,"y":0.275,"b":0.034,"d":-0.043},{"x":0.9,"y":0.275,"b":0.031,"d":-0.037},{"x":1.1,"y":0.275,"b":0.027,"d":-0.031},{"x":1.3,"y":0.275,"b":0.022,"d":-0.025},{"x":1.5,"y":0.275,"b":0.017,"d":-0.018},{"x":1.7,"y":0.275,"b":0.011,"d":-0.01},{"x":1.9,"y":0.275,"b":0.003,"d":-0.003},
{"x":-0.3,"y":0.325,"b":0.034,"d":-0.062},{"x":-0.1,"y":0.325,"b":0.038,"d":-0.059},{"x":0.1,"y":0.325,"b":0.038,"d":-0.054},{"x":0.3,"y":0.325,"b":0.036,"d":-0.05},{"x":0.5,"y":0.325,"b":0.034,"d":-0.045},{"x":0.7,"y":0.325,"b":0.031,"d":-0.04},{"x":0.9,"y":0.325,"b":0.028,"d":-0.035},{"x":1.1,"y":0.325,"b":0.025,"d":-0.029},{"x":1.3,"y":0.325,"b":0.02,"d":-0.023},{"x":1.5,"y":0.325,"b":0.015,"d":-0.016},{"x":1.7,"y":0.325,"b":0.009,"d":-0.009},{"x":1.9,"y":0.325,"b":0.002,"d":-0.002},
{"x":-0.3,"y":0.375,"b":0.026,"d":-0.05},{"x":-0.1,"y":0.375,"b":0.031,"d":-0.054},{"x":0.1,"y":0.375,"b":0.032,"d":-0.05},{"x":0.3,"y":0.375,"b":0.032,"d":-0.046},{"x":0.5,"y":0.375,"b":0.03,"d":-0.042},{"x":0.7,"y":0.375,"b":0.028,"d":-0.037},{"x":0.9,"y":0.375,"b":0.026,"d":-0.032},{"x":1.1,"y":0.375,"b":0.023,"d":-0.027},{"x":1.3,"y":0.375,"b":0.018,"d":-0.021},{"x":1.5,"y":0.375,"b":0.013,"d":-0.014},{"x":1.7,"y":0.375,"b":0.008,"d":-0.008},
{"x":-0.3,"y":0.425,"b":0.013,"d":-0.025},{"x":-0.1,"y":0.425,"b":0.025,"d":-0.045},{"x":0.1,"y":0.425,"b":0.028,"d":-0.045},{"x":0.3,"y":0.425,"b":0.028,"d":-0.042},{"x":0.5,"y":0.425,"b":0.027,"d":-0.038},{"x":0.7,"y":0.425,"b":0.026,"d":-0.034},{"x":0.9,"y":0.425,"b":0.024,"d":-0.029},{"x":1.1,"y":0.425,"b":0.021,"d":-0.024},{"x":1.3,"y":0.425,"b":0.016,"d":-0.018},{"x":1.5,"y":0.425,"b":0.011,"d":-0.012},{"x":1.7,"y":0.425,"b":0.006,"d":-0.006},
{"x":-0.1,"y":0.475,"b":0.014,"d":-0.028},{"x":0.1,"y":0.475,"b":0.022,"d":-0.037},{"x":0.3,"y":0.475,"b":0.026,"d":-0.036},{"x":0.5,"y":0.475,"b":0.026,"d":-0.033},{"x":0.7,"y":0.475,"b":0.024,"d":-0.03},{"x":0.9,"y":0.475,"b":0.021,"d":-0.026},{"x":1.1,"y":0.475,"b":0.018,"d":-0.021},{"x":1.3,"y":0.475,"b":0.014,"d":-0.016},{"x":1.5,"y":0.475,"b":0.009,"d":-0.01},{"x":1.7,"y":0.475,"b":0.004,"d":-0.004},
{"x":0.1,"y":0.525,"b":0.013,"d":-0.022},{"x":0.3,"y":0.525,"b":0.019,"d":-0.027},{"x":0.5,"y":0.525,"b":0.021,"d":-0.027},{"x":0.7,"y":0.525,"b":0.02,"d":-0.025},{"x":0.9,"y":0.525,"b":0.018,"d":-0.022},{"x":1.1,"y":0.525,"b":0.015,"d":-0.018},{"x":1.3,"y":0.525,"b":0.011,"d":-0.013},{"x":1.5,"y":0.525,"b":0.006,"d":-0.007},{"x":1.7,"y":0.525,"b":0.002,"d":-0.002},
{"x":0.3,"y":0.575,"b":0.006,"d":-0.01},{"x":0.5,"y":0.575,"b":0.012,"d":-0.016},{"x":0.7,"y":0.575,"b":0.013,"d":-0.017},{"x":0.9,"y":0.575,"b":0.012,"d":-0.016},{"x":1.1,"y":0.575,"b":0.01,"d":-0.013},{"x":1.3,"y":0.575,"b":0.007,"d":-0.009},{"x":1.5,"y":0.575,"b":0.003,"d":-0.004},
{"x":0.7,"y":0.625,"b":0.004,"d":-0.005},{"x":0.9,"y":0.625,"b":0.005,"d":-0.006},{"x":1.1,"y":0.625,"b":0.004,"d":-0.005},{"x":1.3,"y":0.625,"b":0.002,"d":-0.003}
]
},
"spacing": 6,
"resolve": {"scale": {"color": "independent"}},
"vconcat": [
{"hconcat": [
{"width": 163, "height": 119,
 "layer": [
  {"data": {"name": "nc"}, "mark": {"type": "rect", "binSpacing": -1, "clip": true},
   "encoding": {
    "x": {"field": "x", "type": "quantitative", "bin": {"step": 0.25, "extent": [-3, 3]}, "scale": {"domain": [-3, 3], "nice": false, "zero": false}, "axis": {"values": [-3,-2,-1,0,1,2,3], "format": "~g", "title": "εₛ/J₀"}},
    "y": {"field": "y", "type": "quantitative", "bin": {"step": 0.05, "extent": [0, 1]}, "scale": {"domain": [0, 1], "nice": false, "zero": false}, "axis": {"values": [0,0.2,0.4,0.6,0.8,1], "format": "~g", "title": "T/J₀"}},
    "color": {"field": "v", "type": "quantitative", "scale": {"domain": [0,0.1,0.2,0.3,0.4,0.5,0.6,0.7,0.8,0.9,1], "range": ["#3e26a8","#4542e5","#2f76f4","#1c99e3","#10b2cb","#27bca7","#6fc37b","#bcbf4d","#f5b83a","#f7d32b","#f9fb0e"]}, "legend": {"values": [0,0.2,0.4,0.6,0.8,1], "format": "~g", "title": null}}
   }},
  {"data": {"name": "nf1"}, "mark": {"type": "rect", "binSpacing": -1, "clip": true},
   "encoding": {
    "x": {"field": "x", "type": "quantitative", "bin": {"step": 0.125, "extent": [-1.5, 2]}},
    "y": {"field": "y", "type": "quantitative", "bin": {"step": 0.05, "extent": [0, 0.4]}},
    "color": {"field": "v", "type": "quantitative", "legend": {"values": [0,0.2,0.4,0.6,0.8,1], "format": "~g", "title": null}}
   }},
  {"data": {"name": "nf2"}, "mark": {"type": "rect", "binSpacing": -1, "clip": true},
   "encoding": {
    "x": {"field": "x", "type": "quantitative", "bin": {"step": 0.125, "extent": [-1.5, 2]}},
    "y": {"field": "y", "type": "quantitative", "bin": {"step": 0.1, "extent": [0.4, 1]}},
    "color": {"field": "v", "type": "quantitative", "legend": {"values": [0,0.2,0.4,0.6,0.8,1], "format": "~g", "title": null}}
   }},
  {"data": {"values": [{}]}, "mark": {"type": "point", "filled": true, "color": "black", "size": 20, "opacity": 1}, "encoding": {"x": {"datum": -0.45, "type": "quantitative"}, "y": {"datum": 0.355, "type": "quantitative"}}},
  {"data": {"values": [{}]}, "mark": {"type": "text", "text": "(a)", "align": "left", "baseline": "middle", "font": "Liberation Sans", "fontSize": 9, "color": "black"}, "encoding": {"x": {"datum": -2.88, "type": "quantitative"}, "y": {"datum": 0.905, "type": "quantitative"}}},
  {"data": {"values": [{}]}, "mark": {"type": "text", "text": "(εₛ*, T*)", "align": "center", "baseline": "middle", "font": "Liberation Serif", "fontStyle": "italic", "fontSize": 10, "color": "#222222"}, "encoding": {"x": {"datum": -0.97, "type": "quantitative"}, "y": {"datum": 0.44, "type": "quantitative"}}},
  {"data": {"values": [{}]}, "mark": {"type": "text", "text": "n", "align": "left", "baseline": "middle", "font": "Liberation Sans", "fontWeight": "bold", "fontSize": 10, "color": "white"}, "encoding": {"x": {"datum": 1.97, "type": "quantitative"}, "y": {"datum": 0.9, "type": "quantitative"}}},
  {"data": {"values": [{}]}, "mark": {"type": "text", "text": "HS,A", "align": "left", "baseline": "middle", "font": "Liberation Sans", "fontWeight": "bold", "fontSize": 7, "color": "white"}, "encoding": {"x": {"datum": 2.17, "type": "quantitative"}, "y": {"datum": 0.85, "type": "quantitative"}}}
 ]},
{"width": 163, "height": 119,
 "view": {"fill": "#3e26a8"},
 "layer": [
  {"data": {"name": "m"}, "mark": {"type": "rect", "binSpacing": -1, "clip": true},
   "encoding": {
    "x": {"field": "x", "type": "quantitative", "bin": {"step": 0.2, "extent": [-2, 2]}, "scale": {"domain": [-3, 3], "nice": false, "zero": false}, "axis": {"values": [-3,-2,-1,0,1,2,3], "format": "~g", "title": "εₛ/J₀"}},
    "y": {"field": "y", "type": "quantitative", "bin": {"step": 0.05, "extent": [0, 0.65]}, "scale": {"domain": [0, 1], "nice": false, "zero": false}, "axis": {"values": [0,0.2,0.4,0.6,0.8,1], "format": "~g", "title": "T/J₀"}},
    "color": {"field": "b", "type": "quantitative", "scale": {"domain": [0,0.01144,0.02288,0.03432,0.04576,0.0572,0.06864,0.08008,0.09152,0.10296,0.1144], "range": ["#3e26a8","#4542e5","#2f76f4","#1c99e3","#10b2cb","#27bca7","#6fc37b","#bcbf4d","#f5b83a","#f7d32b","#f9fb0e"]}, "legend": {"values": [0,0.02,0.04,0.06,0.08,0.1], "format": "~g", "title": null, "offset": 11}}
   }},
  {"data": {"values": [{}]}, "mark": {"type": "point", "filled": true, "color": "black", "size": 20, "opacity": 1}, "encoding": {"x": {"datum": -0.45, "type": "quantitative"}, "y": {"datum": 0.355, "type": "quantitative"}}},
  {"data": {"values": [{}]}, "mark": {"type": "text", "text": "(b)", "align": "left", "baseline": "middle", "font": "Liberation Sans", "fontSize": 9, "color": "white"}, "encoding": {"x": {"datum": -2.88, "type": "quantitative"}, "y": {"datum": 0.905, "type": "quantitative"}}},
  {"data": {"values": [{}]}, "mark": {"type": "text", "text": "m", "align": "left", "baseline": "middle", "font": "Liberation Sans", "fontWeight": "bold", "fontSize": 10, "color": "white"}, "encoding": {"x": {"datum": 2.33, "type": "quantitative"}, "y": {"datum": 0.9, "type": "quantitative"}}},
  {"data": {"values": [{}]}, "mark": {"type": "text", "text": "A", "align": "left", "baseline": "middle", "font": "Liberation Sans", "fontWeight": "bold", "fontSize": 7, "color": "white"}, "encoding": {"x": {"datum": 2.62, "type": "quantitative"}, "y": {"datum": 0.85, "type": "quantitative"}}}
 ]}
], "spacing": 8, "resolve": {"scale": {"color": "independent"}}},
{"hconcat": [
{"width": 163, "height": 119,
 "layer": [
  {"data": {"name": "nc"}, "mark": {"type": "rect", "binSpacing": -1, "clip": true},
   "encoding": {
    "x": {"field": "x", "type": "quantitative", "bin": {"step": 0.25, "extent": [-3, 3]}, "scale": {"domain": [-3, 3], "nice": false, "zero": false}, "axis": {"values": [-3,-2,-1,0,1,2,3], "format": "~g", "title": "εₛ/J₀"}},
    "y": {"field": "y", "type": "quantitative", "bin": {"step": 0.05, "extent": [0, 1]}, "scale": {"domain": [0, 1], "nice": false, "zero": false}, "axis": {"values": [0,0.2,0.4,0.6,0.8,1], "format": "~g", "title": "T/J₀"}},
    "color": {"field": "v", "type": "quantitative", "scale": {"domain": [0,0.1,0.2,0.3,0.4,0.5,0.6,0.7,0.8,0.9,1], "range": ["#3e26a8","#4542e5","#2f76f4","#1c99e3","#10b2cb","#27bca7","#6fc37b","#bcbf4d","#f5b83a","#f7d32b","#f9fb0e"]}, "legend": {"values": [0,0.2,0.4,0.6,0.8,1], "format": "~g", "title": null}}
   }},
  {"data": {"name": "nf1"}, "mark": {"type": "rect", "binSpacing": -1, "clip": true},
   "encoding": {
    "x": {"field": "x", "type": "quantitative", "bin": {"step": 0.125, "extent": [-1.5, 2]}},
    "y": {"field": "y", "type": "quantitative", "bin": {"step": 0.05, "extent": [0, 0.4]}},
    "color": {"field": "v", "type": "quantitative", "legend": {"values": [0,0.2,0.4,0.6,0.8,1], "format": "~g", "title": null}}
   }},
  {"data": {"name": "nf2"}, "mark": {"type": "rect", "binSpacing": -1, "clip": true},
   "encoding": {
    "x": {"field": "x", "type": "quantitative", "bin": {"step": 0.125, "extent": [-1.5, 2]}},
    "y": {"field": "y", "type": "quantitative", "bin": {"step": 0.1, "extent": [0.4, 1]}},
    "color": {"field": "v", "type": "quantitative", "legend": {"values": [0,0.2,0.4,0.6,0.8,1], "format": "~g", "title": null}}
   }},
  {"data": {"values": [{}]}, "mark": {"type": "point", "filled": true, "color": "black", "size": 20, "opacity": 1}, "encoding": {"x": {"datum": -0.45, "type": "quantitative"}, "y": {"datum": 0.355, "type": "quantitative"}}},
  {"data": {"values": [{}]}, "mark": {"type": "text", "text": "(c)", "align": "left", "baseline": "middle", "font": "Liberation Sans", "fontSize": 9, "color": "black"}, "encoding": {"x": {"datum": -2.88, "type": "quantitative"}, "y": {"datum": 0.905, "type": "quantitative"}}},
  {"data": {"values": [{}]}, "mark": {"type": "text", "text": "n", "align": "left", "baseline": "middle", "font": "Liberation Sans", "fontWeight": "bold", "fontSize": 10, "color": "white"}, "encoding": {"x": {"datum": 1.97, "type": "quantitative"}, "y": {"datum": 0.9, "type": "quantitative"}}},
  {"data": {"values": [{}]}, "mark": {"type": "text", "text": "HS,B", "align": "left", "baseline": "middle", "font": "Liberation Sans", "fontWeight": "bold", "fontSize": 7, "color": "white"}, "encoding": {"x": {"datum": 2.17, "type": "quantitative"}, "y": {"datum": 0.85, "type": "quantitative"}}}
 ]},
{"width": 163, "height": 119,
 "view": {"fill": "#f9fb0e"},
 "layer": [
  {"data": {"name": "m"}, "mark": {"type": "rect", "binSpacing": -1, "clip": true},
   "encoding": {
    "x": {"field": "x", "type": "quantitative", "bin": {"step": 0.2, "extent": [-2, 2]}, "scale": {"domain": [-3, 3], "nice": false, "zero": false}, "axis": {"values": [-3,-2,-1,0,1,2,3], "format": "~g", "title": "εₛ/J₀"}},
    "y": {"field": "y", "type": "quantitative", "bin": {"step": 0.05, "extent": [0, 0.65]}, "scale": {"domain": [0, 1], "nice": false, "zero": false}, "axis": {"values": [0,0.2,0.4,0.6,0.8,1], "format": "~g", "title": "T/J₀"}},
    "color": {"field": "d", "type": "quantitative", "scale": {"domain": [-0.1152,-0.10368,-0.09216,-0.08064,-0.06912,-0.0576,-0.04608,-0.03456,-0.02304,-0.01152,0], "range": ["#3e26a8","#4542e5","#2f76f4","#1c99e3","#10b2cb","#27bca7","#6fc37b","#bcbf4d","#f5b83a","#f7d32b","#f9fb0e"]}, "legend": {"values": [-0.1,-0.08,-0.06,-0.04,-0.02,0], "format": "~g", "title": null, "offset": 11}}
   }},
  {"data": {"values": [{}]}, "mark": {"type": "point", "filled": true, "color": "black", "size": 20, "opacity": 1}, "encoding": {"x": {"datum": -0.45, "type": "quantitative"}, "y": {"datum": 0.355, "type": "quantitative"}}},
  {"data": {"values": [{}]}, "mark": {"type": "text", "text": "(d)", "align": "left", "baseline": "middle", "font": "Liberation Sans", "fontSize": 9, "color": "black"}, "encoding": {"x": {"datum": -2.88, "type": "quantitative"}, "y": {"datum": 0.905, "type": "quantitative"}}},
  {"data": {"values": [{}]}, "mark": {"type": "text", "text": "m", "align": "left", "baseline": "middle", "font": "Liberation Sans", "fontWeight": "bold", "fontSize": 10, "color": "black"}, "encoding": {"x": {"datum": 2.33, "type": "quantitative"}, "y": {"datum": 0.9, "type": "quantitative"}}},
  {"data": {"values": [{}]}, "mark": {"type": "text", "text": "B", "align": "left", "baseline": "middle", "font": "Liberation Sans", "fontWeight": "bold", "fontSize": 7, "color": "black"}, "encoding": {"x": {"datum": 2.62, "type": "quantitative"}, "y": {"datum": 0.85, "type": "quantitative"}}}
 ]}
], "spacing": 8, "resolve": {"scale": {"color": "independent"}}}
],
"config": {
 "locale": {"number": {"decimal": ".", "thousands": ",", "grouping": [3], "currency": ["$", ""], "minus": "-"}},
 "view": {"stroke": null},
 "axis": {"labelFont": "Liberation Sans", "labelFontSize": 8, "labelColor": "#262626", "titleFont": "Liberation Serif", "titleFontStyle": "italic", "titleFontWeight": "normal", "titleFontSize": 11, "titleColor": "#262626", "domain": false, "ticks": false, "grid": false, "labelPadding": 4, "titlePadding": 2},
 "legend": {"orient": "right", "offset": 7, "padding": 0, "gradientLength": 119, "gradientThickness": 6, "gradientStrokeColor": "#999999", "gradientStrokeWidth": 0.5, "labelFont": "Liberation Sans", "labelFontSize": 8, "labelColor": "#262626", "labelOffset": 3, "labelOverlap": false, "direction": "vertical"}
}
}
